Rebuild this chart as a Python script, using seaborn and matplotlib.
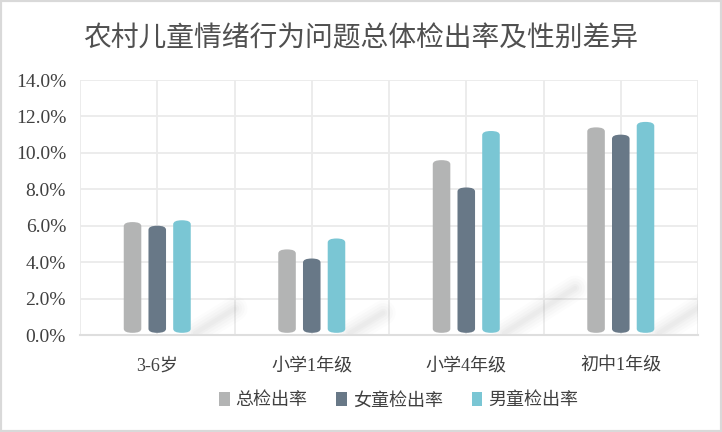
import matplotlib
matplotlib.use("Agg")
import matplotlib.pyplot as plt
from matplotlib.patches import FancyBboxPatch, Patch, Rectangle
from matplotlib.ticker import FuncFormatter, MultipleLocator
import seaborn as sns
import pandas as pd

# 数据
categories = ["3-6岁", "小学1年级", "小学4年级", "初中1年级"]
series = ["总检出率", "女童检出率", "男童检出率"]
total_rate = [6.2, 4.7, 9.6, 11.4]
girl_rate = [6.0, 4.2, 8.1, 11.0]
boy_rate = [6.3, 5.3, 11.2, 11.7]
colors = ["#b3b4b4", "#687887", "#7ac6d4"]
title = "农村儿童情绪行为问题总体检出率及性别差异"

df = pd.DataFrame({
    "组别": categories * 3,
    "系列": [s for s in series for _ in categories],
    "检出率": total_rate + girl_rate + boy_rate,
})

sns.set_style("white")
plt.rcParams["font.family"] = ["Liberation Serif", "Noto Sans CJK SC", "DejaVu Sans"]

fig = plt.figure(figsize=(7.22, 4.32), dpi=100)
ax = fig.add_axes([0.1108, 0.2245, 0.856, 0.5903])

sns.barplot(data=df, x="组别", y="检出率", hue="系列", order=categories,
            hue_order=series, palette=colors, saturation=1, width=0.48,
            gap=0.29, legend=False, ax=ax, zorder=3)

ax.set_xlim(-0.5, 3.5)
ax.set_ylim(0, 14)

# 圆柱形的柱子
for p in list(ax.patches):
    x, w, h = p.get_x(), p.get_width(), p.get_height()
    fc = p.get_facecolor()
    p.remove()
    r = w / 2 * 0.999
    bar = FancyBboxPatch((x, 0.12), w, h - 0.12,
                         boxstyle=f"round,pad=0,rounding_size={r}",
                         mutation_aspect=3.9, facecolor=fc, edgecolor="none",
                         zorder=3)
    ax.add_patch(bar)

# 柱子后面的阴影
for i in range(len(categories)):
    h = max(total_rate[i], girl_rate[i], boy_rate[i])
    x0 = i + 0.245
    x1 = x0 + h * 0.041
    y1 = h * 0.23
    for lw, a in [(18, 0.025), (14, 0.03), (10, 0.035), (6, 0.04), (3, 0.04)]:
        ax.plot([x0, x1], [0.1, y1], color="#8c8c8c", lw=lw, alpha=a,
                solid_capstyle="round", zorder=2, clip_on=True)

# 网格
ax.set_xticks(range(len(categories)))
ax.set_xticks([i - 0.5 for i in range(len(categories) + 1)], minor=True)
ax.set_xticklabels(categories)
ax.yaxis.set_major_locator(MultipleLocator(2))
ax.yaxis.set_major_formatter(FuncFormatter(lambda v, _: f"{v:.1f}%"))
ax.grid(True, which="both", axis="x", color="#ebebeb", lw=1.3, zorder=0)
ax.grid(True, which="major", axis="y", color="#ebebeb", lw=1.3, zorder=0)
ax.set_axisbelow(True)
for s in ["top", "left", "right"]:
    ax.spines[s].set_visible(False)
ax.spines["bottom"].set_color("#dedede")
ax.spines["bottom"].set_linewidth(1.5)
ax.tick_params(axis="both", which="both", length=0)
ax.tick_params(axis="y", labelsize=14, labelcolor="#404040", pad=10)
ax.tick_params(axis="x", labelsize=13, labelcolor="#404040", pad=16)
ax.set_xlabel("")
ax.set_ylabel("")

fig.text(0.5, 0.912, title, ha="center", va="center", fontsize=20,
         color="#505050", family=["Noto Sans CJK SC", "DejaVu Sans"])

handles = [Patch(facecolor=c, edgecolor="none") for c in colors]
fig.legend(handles, series, loc="center", bbox_to_anchor=(0.552, 0.072),
           ncol=3, frameon=False, fontsize=13, handlelength=0.6,
           handleheight=0.75, handletextpad=0.3, columnspacing=1.6,
           labelcolor="#404040")

# 外框
fig.patches.append(Rectangle((0, 0), 1, 1, transform=fig.transFigure,
                             fill=False, edgecolor="#d9d9d9", lw=3))

fig.savefig("out.png", dpi=100)
